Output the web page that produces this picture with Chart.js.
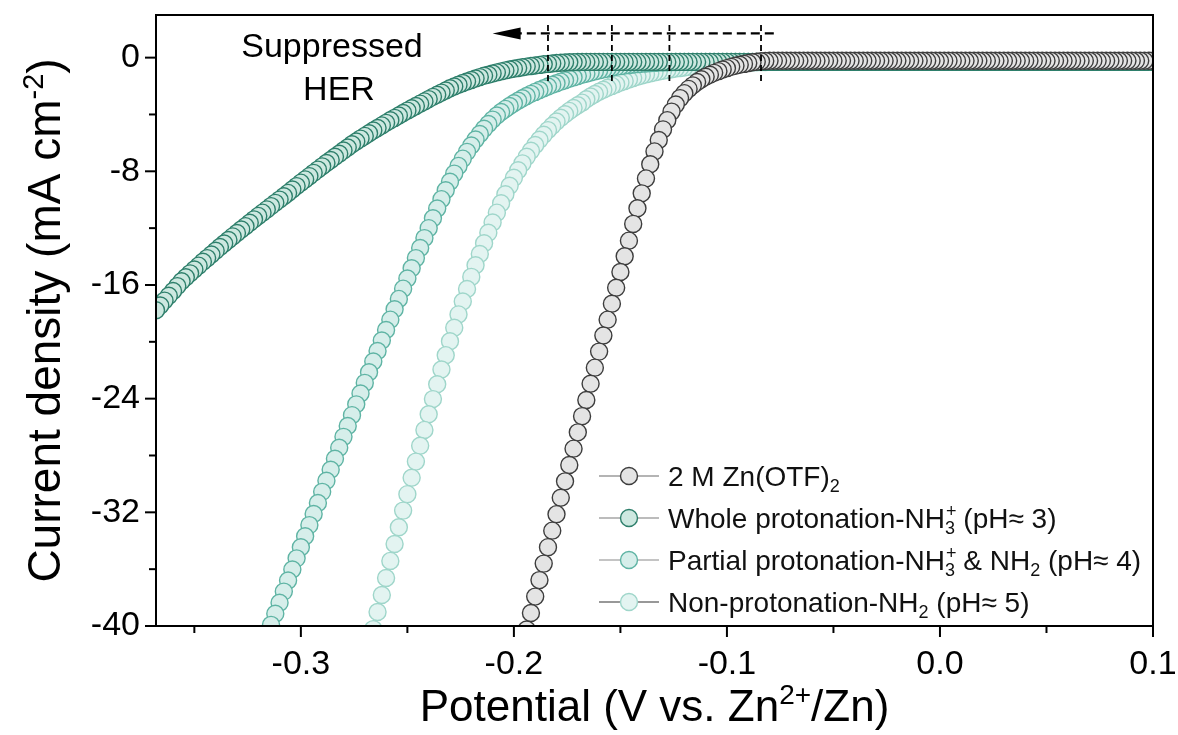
<!DOCTYPE html>
<html>
<head>
<meta charset="utf-8">
<title>LSV - suppressed HER</title>
<script src="https://cdn.jsdelivr.net/npm/chart.js@4.4.0/dist/chart.umd.min.js"></script>
<style>
  body { margin: 0; background: #fff; }
</style>
</head>
<body>
<canvas id="lsv" width="1178" height="735"></canvas>
<script>
// potential grid in mV (vs. Zn2+/Zn), 2 mV per point
var potentialMV = [
  -368,-366,-364,-362,-360,-358,-356,-354,-352,-350,-348,-346,-344,-342,-340,-338,-336,-334,-332,-330,
  -328,-326,-324,-322,-320,-318,-316,-314,-312,-310,-308,-306,-304,-302,-300,-298,-296,-294,-292,-290,
  -288,-286,-284,-282,-280,-278,-276,-274,-272,-270,-268,-266,-264,-262,-260,-258,-256,-254,-252,-250,
  -248,-246,-244,-242,-240,-238,-236,-234,-232,-230,-228,-226,-224,-222,-220,-218,-216,-214,-212,-210,
  -208,-206,-204,-202,-200,-198,-196,-194,-192,-190,-188,-186,-184,-182,-180,-178,-176,-174,-172,-170,
  -168,-166,-164,-162,-160,-158,-156,-154,-152,-150,-148,-146,-144,-142,-140,-138,-136,-134,-132,-130,
  -128,-126,-124,-122,-120,-118,-116,-114,-112,-110,-108,-106,-104,-102,-100,-98,-96,-94,-92,-90,
  -88,-86,-84,-82,-80,-78,-76,-74,-72,-70,-68,-66,-64,-62,-60,-58,-56,-54,-52,-50,
  -48,-46,-44,-42,-40,-38,-36,-34,-32,-30,-28,-26,-24,-22,-20,-18,-16,-14,-12,-10,
  -8,-6,-4,-2,0,2,4,6,8,10,12,14,16,18,20,22,24,26,28,30,
  32,34,36,38,40,42,44,46,48,50,52,54,56,58,60,62,64,66,68,70,
  72,74,76,78,80,82,84,86,88,90,92,94,96,98,100
];

// current density (mA cm-2), same order as potentialMV
var znOtf = [
  null,null,null,null,null,null,null,null,null,null,null,null,null,null,null,null,null,null,null,null,
  null,null,null,null,null,null,null,null,null,null,null,null,null,null,null,null,null,null,null,null,
  null,null,null,null,null,null,null,null,null,null,null,null,null,null,null,null,null,null,null,null,
  null,null,null,null,null,null,null,null,null,null,null,null,null,null,null,null,null,null,null,null,
  null,null,null,null,null,null,null,-40.25,-39.09,-37.93,-36.77,-35.61,-34.45,-33.29,-32.13,-30.97,-29.82,-28.67,-27.52,-26.37,
  -25.23,-24.09,-22.95,-21.82,-20.69,-19.56,-18.44,-17.32,-16.20,-15.09,-13.98,-12.88,-11.70,-10.60,-9.55,-8.50,-7.50,-6.60,-5.80,-5.05,
  -4.40,-3.80,-3.30,-2.85,-2.50,-2.20,-1.95,-1.72,-1.52,-1.35,-1.20,-1.07,-0.95,-0.84,-0.74,-0.65,-0.57,-0.50,-0.44,-0.38,
  -0.33,-0.29,-0.26,-0.24,-0.22,-0.22,-0.22,-0.22,-0.22,-0.22,-0.22,-0.22,-0.22,-0.22,-0.22,-0.22,-0.22,-0.22,-0.22,-0.22,
  -0.22,-0.22,-0.22,-0.22,-0.22,-0.22,-0.22,-0.22,-0.22,-0.22,-0.22,-0.22,-0.22,-0.22,-0.22,-0.22,-0.22,-0.22,-0.22,-0.22,
  -0.22,-0.22,-0.22,-0.22,-0.22,-0.22,-0.22,-0.22,-0.22,-0.22,-0.22,-0.22,-0.22,-0.22,-0.22,-0.22,-0.22,-0.22,-0.22,-0.22,
  -0.22,-0.22,-0.22,-0.22,-0.22,-0.22,-0.22,-0.22,-0.22,-0.22,-0.22,-0.22,-0.22,-0.22,-0.22,-0.22,-0.22,-0.22,-0.22,-0.22,
  -0.22,-0.22,-0.22,-0.22,-0.22,-0.22,-0.22,-0.22,-0.22,-0.22,-0.22,-0.22,-0.22,-0.22,-0.22
];
var wholeNH3 = [
  -17.78,-17.44,-17.10,-16.76,-16.42,-16.08,-15.74,-15.46,-15.18,-14.91,-14.64,-14.37,-14.11,-13.85,-13.59,-13.33,-13.08,-12.83,-12.58,-12.34,
  -12.10,-11.86,-11.62,-11.38,-11.14,-10.91,-10.68,-10.45,-10.22,-9.99,-9.76,-9.52,-9.28,-9.04,-8.80,-8.57,-8.34,-8.11,-7.88,-7.65,
  -7.42,-7.20,-6.98,-6.76,-6.54,-6.32,-6.10,-5.90,-5.70,-5.51,-5.32,-5.13,-4.95,-4.77,-4.59,-4.41,-4.24,-4.07,-3.90,-3.73,
  -3.56,-3.40,-3.24,-3.08,-2.92,-2.76,-2.61,-2.46,-2.31,-2.16,-2.03,-1.91,-1.79,-1.68,-1.57,-1.47,-1.37,-1.28,-1.20,-1.12,
  -1.04,-0.97,-0.90,-0.84,-0.78,-0.73,-0.68,-0.63,-0.59,-0.55,-0.51,-0.47,-0.44,-0.41,-0.38,-0.36,-0.34,-0.33,-0.32,-0.31,
  -0.30,-0.30,-0.30,-0.30,-0.30,-0.30,-0.30,-0.30,-0.30,-0.30,-0.30,-0.30,-0.30,-0.30,-0.30,-0.30,-0.30,-0.30,-0.30,-0.30,
  -0.30,-0.30,-0.30,-0.30,-0.30,-0.30,-0.30,-0.30,-0.30,-0.30,-0.30,-0.30,-0.30,-0.30,-0.30,-0.30,-0.30,-0.30,-0.30,-0.30,
  -0.30,-0.30,-0.30,-0.30,-0.30,-0.30,-0.30,-0.30,-0.30,-0.30,-0.30,-0.30,-0.30,-0.30,-0.30,-0.30,-0.30,-0.30,-0.30,-0.30,
  -0.30,-0.30,-0.30,-0.30,-0.30,-0.30,-0.30,-0.30,-0.30,-0.30,-0.30,-0.30,-0.30,-0.30,-0.30,-0.30,-0.30,-0.30,-0.30,-0.30,
  -0.30,-0.30,-0.30,-0.30,-0.30,-0.30,-0.30,-0.30,-0.30,-0.30,-0.30,-0.30,-0.30,-0.30,-0.30,-0.30,-0.30,-0.30,-0.30,-0.30,
  -0.30,-0.30,-0.30,-0.30,-0.30,-0.30,-0.30,-0.30,-0.30,-0.30,-0.30,-0.30,-0.30,-0.30,-0.30,-0.30,-0.30,-0.30,-0.30,-0.30,
  -0.30,-0.30,-0.30,-0.30,-0.30,-0.30,-0.30,-0.30,-0.30,-0.30,-0.30,-0.30,-0.30,-0.30,-0.30
];
var partialNH3 = [
  null,null,null,null,null,null,null,null,null,null,null,null,null,null,null,null,null,null,null,null,
  null,null,null,null,null,null,-40.70,-39.92,-39.14,-38.36,-37.58,-36.80,-36.02,-35.24,-34.46,-33.68,-32.90,-32.12,-31.34,-30.56,
  -29.78,-29.00,-28.23,-27.46,-26.69,-25.92,-25.16,-24.40,-23.64,-22.89,-22.14,-21.39,-20.65,-19.91,-19.17,-18.44,-17.71,-16.98,-16.26,-15.54,
  -14.82,-14.11,-13.40,-12.70,-12.00,-11.30,-10.62,-9.96,-9.33,-8.73,-8.16,-7.62,-7.11,-6.63,-6.18,-5.76,-5.37,-5.01,-4.67,-4.36,
  -4.07,-3.83,-3.61,-3.40,-3.21,-3.03,-2.86,-2.70,-2.55,-2.41,-2.28,-2.15,-2.03,-1.91,-1.80,-1.69,-1.59,-1.49,-1.39,-1.30,
  -1.21,-1.13,-1.05,-0.97,-0.90,-0.83,-0.76,-0.70,-0.65,-0.60,-0.56,-0.52,-0.49,-0.46,-0.43,-0.41,-0.39,-0.37,-0.35,-0.34,
  -0.33,-0.32,-0.31,-0.30,-0.30,-0.30,-0.30,-0.30,-0.30,-0.30,-0.30,-0.30,-0.30,-0.30,-0.30,-0.30,-0.30,-0.30,-0.30,-0.30,
  -0.30,-0.30,-0.30,-0.30,-0.30,-0.30,-0.30,-0.30,-0.30,-0.30,-0.30,-0.30,-0.30,-0.30,-0.30,-0.30,-0.30,-0.30,-0.30,-0.30,
  -0.30,-0.30,-0.30,-0.30,-0.30,-0.30,-0.30,-0.30,-0.30,-0.30,-0.30,-0.30,-0.30,-0.30,-0.30,-0.30,-0.30,-0.30,-0.30,-0.30,
  -0.30,-0.30,-0.30,-0.30,-0.30,-0.30,-0.30,-0.30,-0.30,-0.30,-0.30,-0.30,-0.30,-0.30,-0.30,-0.30,-0.30,-0.30,-0.30,-0.30,
  -0.30,-0.30,-0.30,-0.30,-0.30,-0.30,-0.30,-0.30,-0.30,-0.30,-0.30,-0.30,-0.30,-0.30,-0.30,-0.30,-0.30,-0.30,-0.30,-0.30,
  -0.30,-0.30,-0.30,-0.30,-0.30,-0.30,-0.30,-0.30,-0.30,-0.30,-0.30,-0.30,-0.30,-0.30,-0.30
];
var nonNH2 = [
  null,null,null,null,null,null,null,null,null,null,null,null,null,null,null,null,null,null,null,null,
  null,null,null,null,null,null,null,null,null,null,null,null,null,null,null,null,null,null,null,null,
  null,null,null,null,null,null,null,null,null,null,null,-40.22,-39.02,-37.82,-36.62,-35.42,-34.23,-33.05,-31.88,-30.72,
  -29.57,-28.43,-27.31,-26.20,-25.10,-24.03,-22.99,-21.95,-20.94,-19.96,-19.01,-18.07,-17.16,-16.28,-15.43,-14.61,-13.82,-13.06,-12.32,-11.60,
  -10.91,-10.25,-9.62,-9.02,-8.45,-7.93,-7.44,-6.98,-6.55,-6.15,-5.78,-5.43,-5.10,-4.79,-4.50,-4.23,-3.98,-3.75,-3.54,-3.35,
  -3.17,-2.93,-2.74,-2.56,-2.40,-2.26,-2.12,-1.99,-1.87,-1.75,-1.64,-1.54,-1.44,-1.35,-1.26,-1.18,-1.11,-1.04,-0.98,-0.92,
  -0.87,-0.82,-0.77,-0.73,-0.69,-0.65,-0.62,-0.59,-0.56,-0.53,-0.50,-0.48,-0.46,-0.44,-0.42,-0.40,-0.38,-0.37,-0.36,-0.35,
  -0.34,-0.33,-0.32,-0.31,-0.30,-0.30,-0.30,-0.30,-0.30,-0.30,-0.30,-0.30,-0.30,-0.30,-0.30,-0.30,-0.30,-0.30,-0.30,-0.30,
  -0.30,-0.30,-0.30,-0.30,-0.30,-0.30,-0.30,-0.30,-0.30,-0.30,-0.30,-0.30,-0.30,-0.30,-0.30,-0.30,-0.30,-0.30,-0.30,-0.30,
  -0.30,-0.30,-0.30,-0.30,-0.30,-0.30,-0.30,-0.30,-0.30,-0.30,-0.30,-0.30,-0.30,-0.30,-0.30,-0.30,-0.30,-0.30,-0.30,-0.30,
  -0.30,-0.30,-0.30,-0.30,-0.30,-0.30,-0.30,-0.30,-0.30,-0.30,-0.30,-0.30,-0.30,-0.30,-0.30,-0.30,-0.30,-0.30,-0.30,-0.30,
  -0.30,-0.30,-0.30,-0.30,-0.30,-0.30,-0.30,-0.30,-0.30,-0.30,-0.30,-0.30,-0.30,-0.30,-0.30
];

var seriesNames = [
  '2 M Zn(OTF)_{2}',
  'Whole protonation-NH_{3}^{+} (pH\u2248 3)',
  'Partial protonation-NH_{3}^{+} & NH_{2} (pH\u2248 4)',
  'Non-protonation-NH_{2} (pH\u2248 5)'
];
var xTitle = 'Potential (V vs. Zn^{2+}/Zn)';
var yTitle = 'Current density (mA cm^{-2})';
var noteLines = ['Suppressed', 'HER'];

// onset potentials (V) marked with dashed lines, and the arrow span
var onsetPotentials = [-0.184, -0.154, -0.127, -0.084];
var arrowFrom = -0.078, arrowTo = -0.210, arrowLevel = 1.7;

var FONT = "'Liberation Sans', Arial, Helvetica, sans-serif";

function richParts(str) {
  var out = [], re = /([_^])\{([^}]*)\}/g, last = 0, m;
  while ((m = re.exec(str))) {
    if (m.index > last) out.push({ k: 'n', t: str.slice(last, m.index) });
    var k = m[1] == '_' ? 'sub' : 'sup';
    var prev = out[out.length - 1];
    if (k == 'sup' && prev && prev.k == 'sub' && prev.end == m.index) {
      prev.k = 'both'; prev.sup = m[2];
    } else {
      out.push({ k: k, t: m[2], end: re.lastIndex });
    }
    last = re.lastIndex;
  }
  if (last < str.length) out.push({ k: 'n', t: str.slice(last) });
  return out;
}

function drawRich(ctx, str, x, y, size, align) {
  var parts = richParts(str), small = Math.round(size * 0.64);
  var big = size + 'px ' + FONT, sm = small + 'px ' + FONT;
  function width(p) {
    if (p.k == 'n') { ctx.font = big; return ctx.measureText(p.t).width; }
    ctx.font = sm;
    if (p.k == 'both') return Math.max(ctx.measureText(p.t).width, ctx.measureText(p.sup).width);
    return ctx.measureText(p.t).width;
  }
  var total = 0;
  parts.forEach(function (p) { total += width(p); });
  var cx = align == 'center' ? x - total / 2 : x;
  ctx.textAlign = 'left';
  ctx.textBaseline = 'alphabetic';
  parts.forEach(function (p) {
    var w = width(p);
    if (p.k == 'n') {
      ctx.font = big; ctx.fillText(p.t, cx, y);
    } else {
      ctx.font = sm;
      if (p.k == 'sub' || p.k == 'both') ctx.fillText(p.t, cx, y + size * 0.2);
      if (p.k == 'sup') ctx.fillText(p.t, cx, y - size * 0.38);
      if (p.k == 'both') ctx.fillText(p.sup, cx + 1, y - size * 0.38);
    }
    cx += w;
  });
}

// the LSV scan runs from positive to negative potential, so points go in that order
function buildPoints(values) {
  var pts = [];
  for (var i = potentialMV.length - 1; i >= 0; i--) {
    if (values[i] === null) continue;
    pts.push({ x: potentialMV[i] / 1000, y: values[i] });
  }
  return pts;
}

var styles = [
  { fill: '#e4e4e4', edge: '#3d3d3d', line: '#6a6a6a' },
  { fill: '#cde8e0', edge: '#2e7f6b', line: '#7a7a7a' },
  { fill: '#d6eeea', edge: '#5fb4a4', line: '#8a8a8a' },
  { fill: '#e3f4f1', edge: '#9fd6ca', line: '#333333' }
];
var seriesValues = [znOtf, wholeNH3, partialNH3, nonNH2];

var datasets = seriesValues.map(function (vals, i) {
  return {
    label: seriesNames[i],
    data: buildPoints(vals),
    showLine: true,
    borderColor: styles[i].line,
    borderWidth: 1,
    pointRadius: 8.5,
    pointBorderWidth: 1.4,
    pointBackgroundColor: styles[i].fill,
    pointBorderColor: styles[i].edge,
    clip: 0
  };
});

var decor = {
  id: 'decor',
  afterDatasetsDraw: function (chart) {
    var ctx = chart.ctx, a = chart.chartArea, xs = chart.scales.x, ys = chart.scales.y;
    ctx.save();
    ctx.fillStyle = '#000';
    ctx.strokeStyle = '#000';

    // dashed onset markers and arrow
    ctx.lineWidth = 1.8;
    ctx.setLineDash([6, 4]);
    onsetPotentials.forEach(function (v) {
      var px = xs.getPixelForValue(v);
      ctx.beginPath();
      ctx.moveTo(px, ys.getPixelForValue(2.3));
      ctx.lineTo(px, ys.getPixelForValue(-1.9));
      ctx.stroke();
    });
    var ay = ys.getPixelForValue(arrowLevel);
    var tip = xs.getPixelForValue(arrowTo);
    ctx.lineWidth = 2.2;
    ctx.setLineDash([9, 5]);
    ctx.beginPath();
    ctx.moveTo(xs.getPixelForValue(arrowFrom), ay);
    ctx.lineTo(tip + 24, ay);
    ctx.stroke();
    ctx.setLineDash([]);
    ctx.beginPath();
    ctx.moveTo(tip, ay);
    ctx.lineTo(tip + 28, ay - 6);
    ctx.lineTo(tip + 28, ay + 6);
    ctx.closePath();
    ctx.fill();

    // note
    ctx.font = '34px ' + FONT;
    ctx.textAlign = 'center';
    ctx.textBaseline = 'alphabetic';
    ctx.fillText(noteLines[0], 332, 57);
    ctx.fillText(noteLines[1], 339, 100);

    // frame
    ctx.lineWidth = 2;
    ctx.strokeRect(a.left, a.top, a.right - a.left, a.bottom - a.top);

    // outward ticks, major + minor
    ctx.lineWidth = 2;
    for (var m = -350; m <= 100; m += 50) {
      var px = xs.getPixelForValue(m / 1000);
      var len = (m % 100 === 0) ? 11 : 7;
      ctx.beginPath(); ctx.moveTo(px, a.bottom); ctx.lineTo(px, a.bottom + len); ctx.stroke();
    }
    for (var j = -40; j <= 0; j += 4) {
      var py = ys.getPixelForValue(j);
      var l2 = (j % 8 === 0) ? 11 : 7;
      ctx.beginPath(); ctx.moveTo(a.left, py); ctx.lineTo(a.left - l2, py); ctx.stroke();
    }

    // axis titles
    drawRich(ctx, xTitle, (a.left + a.right) / 2, 721, 44, 'center');
    ctx.save();
    ctx.translate(60, (a.top + a.bottom) / 2);
    ctx.rotate(-Math.PI / 2);
    drawRich(ctx, yTitle, 0, 0, 46, 'center');
    ctx.restore();

    // legend
    chart.data.datasets.forEach(function (ds, i) {
      var ly = 476 + i * 42;
      ctx.strokeStyle = ds.borderColor;
      ctx.lineWidth = 1.2;
      ctx.beginPath(); ctx.moveTo(599, ly); ctx.lineTo(659, ly); ctx.stroke();
      ctx.beginPath();
      ctx.arc(629, ly, 8.5, 0, Math.PI * 2);
      ctx.fillStyle = ds.pointBackgroundColor; ctx.fill();
      ctx.strokeStyle = ds.pointBorderColor; ctx.lineWidth = 1.4; ctx.stroke();
      ctx.fillStyle = '#111';
      drawRich(ctx, ds.label, 668, ly + 10, 28, 'left');
    });
    ctx.restore();
  }
};

function noPadX(s) { s.height = 109; s.paddingLeft = 0; s.paddingRight = 0; }
function noPadY(s) { s.width = 156; s.paddingTop = 0; s.paddingBottom = 0; }

new Chart(document.getElementById('lsv'), {
  type: 'line',
  data: { datasets: datasets },
  options: {
    responsive: false,
    animation: false,
    devicePixelRatio: 1,
    events: [],
    layout: { padding: { left: 0, right: 25, top: 15, bottom: 0 } },
    plugins: { legend: { display: false }, tooltip: { enabled: false } },
    scales: {
      x: {
        type: 'linear',
        min: -0.368,
        max: 0.1,
        grid: { display: false, drawTicks: false },
        border: { display: false },
        ticks: {
          stepSize: 0.05,
          autoSkip: false,
          maxRotation: 0,
          padding: 18,
          color: '#000',
          font: { family: FONT, size: 34 },
          callback: function (v) {
            var m = Math.round(v * 1000);
            return m % 100 === 0 ? (m / 1000).toFixed(1) : '';
          }
        },
        afterFit: noPadX
      },
      y: {
        min: -40,
        max: 3,
        grid: { display: false, drawTicks: false },
        border: { display: false },
        ticks: {
          stepSize: 4,
          autoSkip: false,
          padding: 16,
          color: '#000',
          font: { family: FONT, size: 34 },
          callback: function (v) {
            return (v <= 0 && v % 8 === 0) ? String(v) : '';
          }
        },
        afterFit: noPadY
      }
    }
  },
  plugins: [decor]
});
</script>
</body>
</html>
